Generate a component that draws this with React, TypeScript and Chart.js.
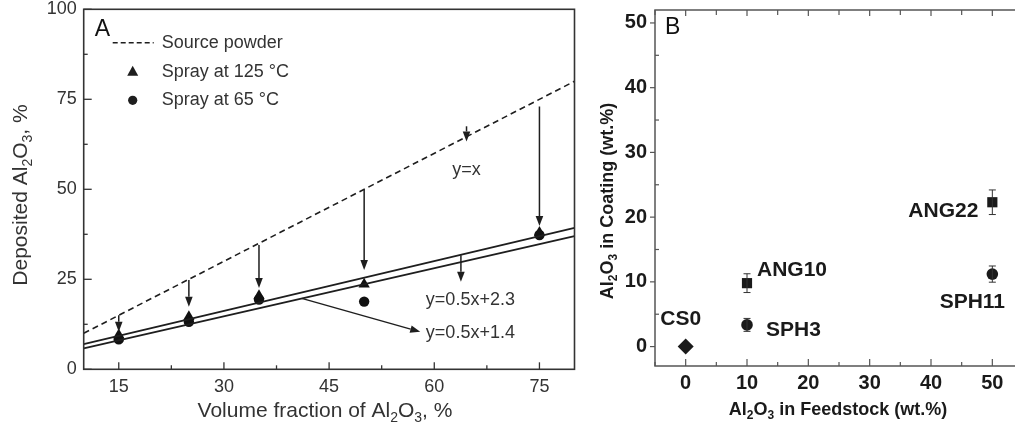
import React, { useEffect, useRef } from "react";
import { Chart, registerables } from "chart.js";

Chart.register(...registerables);

// ---------- Panel A data ----------
const volumeFraction = [15, 25, 35, 50, 75];
const spray125 = [9.5, 14.6, 20.4, 23.6, 38.0];
const spray65 = [8.3, 13.2, 19.4, 18.8, 37.3];
const sourceX = [10, 80];
const sourceY = [10, 80];
const fitX = [10, 80];
const fitUpperY = [7.0, 39.3];
const fitLowerY = [5.8, 37.0];
const xTicksA = [15, 30, 45, 60, 75];
const xMinorA = [22.5, 37.5, 52.5, 67.5];
const yTicksA = [0, 25, 50, 75, 100];
const yMinorA = [12.5, 37.5, 62.5, 87.5];
// annotation arrows (data units)
const arrowStartX = [15, 25, 35, 50, 75, 63.8, 41.1, 64.6];
const arrowStartY = [15, 24.8, 34.5, 49.8, 73, 31.7, 19.7, 67.5];
const arrowEndX = [15, 25, 35, 50, 75, 63.8, 58.0, 64.6];
const arrowEndY = [10.4, 17.4, 22.6, 27.6, 39.8, 24.3, 10.4, 63.3];
const eqLabels = ["y=x", "y=0.5x+2.3", "y=0.5x+1.4"];
const eqLabelX = [64.6, 58.8, 58.8];
const eqLabelY = [55.4, 19.2, 10.2];

// ---------- Panel B data ----------
const csFeed = [0];
const csCoat = [0];
const angFeed = [10, 50];
const angCoat = [9.8, 22.3];
const angErr = [1.45, 1.9];
const sphFeed = [10, 50];
const sphCoat = [3.35, 11.2];
const sphErr = [1.0, 1.25];
const csNames = ["CS0"];
const angNames = ["ANG10", "ANG22"];
const sphNames = ["SPH3", "SPH11"];
const xTicksB = [0, 10, 20, 30, 40, 50];
const xMinorB = [-5, 5, 15, 25, 35, 45, 55];
const yTicksB = [0, 10, 20, 30, 40, 50];
const yMinorB = [5, 15, 25, 35, 45];

// label placement (pixel offsets from the point) – style only
const labelStyle: Record<string, { dx: number; dy: number; align: CanvasTextAlign }> = {
  CS0: { dx: -5, dy: -27, align: "center" },
  ANG10: { dx: 10, dy: -13, align: "left" },
  SPH3: { dx: 19, dy: 5, align: "left" },
  ANG22: { dx: -14, dy: 9, align: "right" },
  SPH11: { dx: -20, dy: 28, align: "center" },
};

const FAM = "'Liberation Sans', Arial, Helvetica, sans-serif";

type Part = { t: string; sub?: boolean };

function drawRich(
  ctx: CanvasRenderingContext2D,
  parts: Part[],
  x: number,
  y: number,
  size: number,
  weight: string,
  color: string,
  rotate = false
) {
  ctx.save();
  ctx.translate(x, y);
  if (rotate) ctx.rotate(-Math.PI / 2);
  const fontFor = (p: Part) => `${weight} ${p.sub ? Math.round(size * 0.68) : size}px ${FAM}`;
  let total = 0;
  parts.forEach((p) => {
    ctx.font = fontFor(p);
    total += ctx.measureText(p.t).width;
  });
  let cx = -total / 2;
  ctx.fillStyle = color;
  ctx.textBaseline = "middle";
  ctx.textAlign = "left";
  parts.forEach((p) => {
    ctx.font = fontFor(p);
    ctx.fillText(p.t, cx, p.sub ? size * 0.32 : 0);
    cx += ctx.measureText(p.t).width;
  });
  ctx.restore();
}

function line(ctx: CanvasRenderingContext2D, x1: number, y1: number, x2: number, y2: number) {
  ctx.beginPath();
  ctx.moveTo(x1, y1);
  ctx.lineTo(x2, y2);
  ctx.stroke();
}

function arrow(ctx: CanvasRenderingContext2D, x1: number, y1: number, x2: number, y2: number) {
  const ang = Math.atan2(y2 - y1, x2 - x1);
  const hl = 10;
  const hw = 3.8;
  const bx = x2 - hl * Math.cos(ang);
  const by = y2 - hl * Math.sin(ang);
  line(ctx, x1, y1, bx, by);
  ctx.beginPath();
  ctx.moveTo(x2, y2);
  ctx.lineTo(bx + hw * Math.sin(ang), by - hw * Math.cos(ang));
  ctx.lineTo(bx - hw * Math.sin(ang), by + hw * Math.cos(ang));
  ctx.closePath();
  ctx.fill();
}

const toPts = (xs: number[], ys: number[]) => xs.map((x, i) => ({ x, y: ys[i] }));

function PanelA() {
  const ref = useRef<HTMLCanvasElement>(null);
  useEffect(() => {
    const ink = "#1e1e1e";
    const textCol = "#333";
    const decor = {
      id: "decorA",
      afterDraw(chart: any) {
        const { ctx, chartArea, scales } = chart;
        const { left, right, top, bottom } = chartArea;
        const x = scales.x;
        const y = scales.y;
        ctx.save();
        ctx.strokeStyle = "#333";
        ctx.lineWidth = 1.6;
        ctx.strokeRect(left, top, right - left, bottom - top);
        ctx.lineWidth = 1.3;
        xTicksA.forEach((v) => {
          const p = x.getPixelForValue(v);
          line(ctx, p, bottom, p, bottom - 7);
        });
        xMinorA.forEach((v) => {
          const p = x.getPixelForValue(v);
          line(ctx, p, bottom, p, bottom - 4);
        });
        yTicksA.forEach((v) => {
          const p = y.getPixelForValue(v);
          line(ctx, left, p, left + 8, p);
        });
        yMinorA.forEach((v) => {
          const p = y.getPixelForValue(v);
          line(ctx, left, p, left + 4, p);
        });
        // arrows
        ctx.strokeStyle = ink;
        ctx.fillStyle = ink;
        ctx.lineWidth = 1.5;
        arrowStartX.forEach((sx, i) => {
          arrow(
            ctx,
            x.getPixelForValue(sx),
            y.getPixelForValue(arrowStartY[i]),
            x.getPixelForValue(arrowEndX[i]),
            y.getPixelForValue(arrowEndY[i])
          );
        });
        // equation labels
        ctx.fillStyle = textCol;
        ctx.font = `18px ${FAM}`;
        ctx.textBaseline = "middle";
        eqLabels.forEach((t, i) => {
          ctx.textAlign = i === 0 ? "center" : "left";
          ctx.fillText(t, x.getPixelForValue(eqLabelX[i]), y.getPixelForValue(eqLabelY[i]));
        });
        // panel letter
        ctx.font = `23px ${FAM}`;
        ctx.textAlign = "left";
        ctx.fillStyle = "#111";
        ctx.fillText("A", left + 11, top + 20);
        // legend
        const lx = left + 29;
        ctx.strokeStyle = ink;
        ctx.lineWidth = 1.5;
        ctx.setLineDash([5, 3]);
        line(ctx, lx, top + 33.5, lx + 41, top + 33.5);
        ctx.setLineDash([]);
        ctx.fillStyle = ink;
        const mx = lx + 20;
        const ty = top + 62.5;
        ctx.beginPath();
        ctx.moveTo(mx, ty - 6);
        ctx.lineTo(mx + 5.5, ty + 4);
        ctx.lineTo(mx - 5.5, ty + 4);
        ctx.closePath();
        ctx.fill();
        ctx.beginPath();
        ctx.arc(mx, top + 91, 4.6, 0, Math.PI * 2);
        ctx.fill();
        ctx.fillStyle = textCol;
        ctx.font = `18px ${FAM}`;
        ctx.fillText("Source powder", lx + 49, top + 33.5);
        ctx.fillText("Spray at 125 \u00b0C", lx + 49, top + 62.5);
        ctx.fillText("Spray at 65 \u00b0C", lx + 49, top + 91);
        // axis titles
        drawRich(
          ctx,
          [{ t: "Deposited Al" }, { t: "2", sub: true }, { t: "O" }, { t: "3", sub: true }, { t: ", %" }],
          21,
          195,
          21,
          "normal",
          textCol,
          true
        );
        drawRich(
          ctx,
          [{ t: "Volume fraction of Al" }, { t: "2", sub: true }, { t: "O" }, { t: "3", sub: true }, { t: ", %" }],
          325,
          411,
          21,
          "normal",
          textCol
        );
        ctx.restore();
      },
    };
    const chart = new Chart(ref.current!, {
      type: "scatter",
      data: {
        datasets: [
          {
            label: "Source powder",
            data: toPts(sourceX, sourceY),
            showLine: true,
            borderColor: ink,
            borderWidth: 1.6,
            borderDash: [6, 4],
            pointRadius: 0,
          },
          {
            label: "fit upper",
            data: toPts(fitX, fitUpperY),
            showLine: true,
            borderColor: ink,
            borderWidth: 1.8,
            pointRadius: 0,
          },
          {
            label: "fit lower",
            data: toPts(fitX, fitLowerY),
            showLine: true,
            borderColor: ink,
            borderWidth: 1.8,
            pointRadius: 0,
          },
          {
            label: "Spray at 65 °C",
            data: toPts(volumeFraction, spray65),
            pointStyle: "circle",
            pointRadius: 5.2,
            backgroundColor: "#111",
            borderColor: "#111",
            borderWidth: 0,
          },
          {
            label: "Spray at 125 °C",
            data: toPts(volumeFraction, spray125),
            pointStyle: "triangle",
            pointRadius: 6.5,
            backgroundColor: "#111",
            borderColor: "#111",
            borderWidth: 0,
          },
        ],
      },
      options: {
        animation: false,
        responsive: false,
        devicePixelRatio: 1,
        layout: { padding: { left: 0, top: 9.3, right: 25.5, bottom: 0 } },
        plugins: { legend: { display: false }, tooltip: { enabled: false } },
        scales: {
          x: {
            type: "linear",
            min: 10,
            max: 80,
            grid: { display: false, drawTicks: false },
            border: { display: false },
            ticks: { font: { family: FAM, size: 18 }, color: "#333", padding: 7 },
            afterBuildTicks: (s: any) => {
              s.ticks = xTicksA.map((v) => ({ value: v }));
            },
            afterFit: (s: any) => {
              s.height = 65.7;
              s.paddingLeft = 0;
              s.paddingRight = 0;
            },
          },
          y: {
            type: "linear",
            min: 0,
            max: 100,
            grid: { display: false, drawTicks: false },
            border: { display: false },
            ticks: { font: { family: FAM, size: 18 }, color: "#333", padding: 7 },
            afterBuildTicks: (s: any) => {
              s.ticks = yTicksA.map((v) => ({ value: v }));
            },
            afterFit: (s: any) => {
              s.width = 83.7;
              s.paddingTop = 0;
              s.paddingBottom = 0;
            },
          },
        },
      } as any,
      plugins: [decor],
    });
    return () => chart.destroy();
  }, []);
  return (
    <canvas
      ref={ref}
      width={600}
      height={435}
      style={{ position: "absolute", left: 0, top: 0, width: 600, height: 435 }}
    />
  );
}

function PanelB() {
  const ref = useRef<HTMLCanvasElement>(null);
  useEffect(() => {
    const ink = "#1a1a1a";
    const frame = "#555";
    const decor = {
      id: "decorB",
      afterDraw(chart: any) {
        const { ctx, chartArea, scales } = chart;
        const { left, right, top, bottom } = chartArea;
        const x = scales.x;
        const y = scales.y;
        ctx.save();
        ctx.strokeStyle = frame;
        ctx.lineWidth = 1.5;
        ctx.strokeRect(left, top, right - left, bottom - top);
        ctx.lineWidth = 1.2;
        xTicksB.forEach((v) => {
          const p = x.getPixelForValue(v);
          line(ctx, p, bottom, p, bottom - 7);
          line(ctx, p, top, p, top + 6);
        });
        xMinorB.forEach((v) => {
          const p = x.getPixelForValue(v);
          line(ctx, p, bottom, p, bottom - 4);
          line(ctx, p, top, p, top + 5);
        });
        yTicksB.forEach((v) => {
          const p = y.getPixelForValue(v);
          line(ctx, left - 5, p, left, p);
        });
        yMinorB.forEach((v) => {
          const p = y.getPixelForValue(v);
          line(ctx, left, p, left + 4, p);
        });
        // error bars
        ctx.strokeStyle = "#333";
        ctx.lineWidth = 1;
        const errs = (xs: number[], ys: number[], es: number[]) => {
          xs.forEach((xv, i) => {
            const px = x.getPixelForValue(xv);
            const hi = y.getPixelForValue(ys[i] + es[i]);
            const lo = y.getPixelForValue(ys[i] - es[i]);
            line(ctx, px, hi, px, lo);
            line(ctx, px - 3.5, hi, px + 3.5, hi);
            line(ctx, px - 3.5, lo, px + 3.5, lo);
          });
        };
        errs(angFeed, angCoat, angErr);
        errs(sphFeed, sphCoat, sphErr);
        // point labels
        ctx.fillStyle = ink;
        ctx.font = `bold 21px ${FAM}`;
        ctx.textBaseline = "middle";
        const labs = (xs: number[], ys: number[], names: string[]) => {
          xs.forEach((xv, i) => {
            const st = labelStyle[names[i]];
            ctx.textAlign = st.align;
            ctx.fillText(names[i], x.getPixelForValue(xv) + st.dx, y.getPixelForValue(ys[i]) + st.dy);
          });
        };
        labs(csFeed, csCoat, csNames);
        labs(angFeed, angCoat, angNames);
        labs(sphFeed, sphCoat, sphNames);
        // panel letter
        ctx.font = `23px ${FAM}`;
        ctx.textAlign = "left";
        ctx.fillStyle = "#111";
        ctx.fillText("B", left + 10, top + 18);
        // axis titles
        drawRich(
          ctx,
          [{ t: "Al" }, { t: "2", sub: true }, { t: "O" }, { t: "3", sub: true }, { t: " in Coating (wt.%)" }],
          48,
          201,
          18,
          "bold",
          ink,
          true
        );
        drawRich(
          ctx,
          [{ t: "Al" }, { t: "2", sub: true }, { t: "O" }, { t: "3", sub: true }, { t: " in Feedstock (wt.%)" }],
          278,
          410,
          18,
          "bold",
          ink
        );
        ctx.restore();
      },
    };
    const chart = new Chart(ref.current!, {
      type: "scatter",
      data: {
        datasets: [
          {
            label: "CS",
            data: toPts(csFeed, csCoat),
            pointStyle: "rectRot",
            pointRadius: 8,
            backgroundColor: ink,
            borderColor: ink,
            borderWidth: 0,
          },
          {
            label: "ANG",
            data: toPts(angFeed, angCoat),
            pointStyle: "rect",
            pointRadius: 7.2,
            backgroundColor: ink,
            borderColor: ink,
            borderWidth: 0,
          },
          {
            label: "SPH",
            data: toPts(sphFeed, sphCoat),
            pointStyle: "circle",
            pointRadius: 5.8,
            backgroundColor: ink,
            borderColor: ink,
            borderWidth: 0,
          },
        ],
      },
      options: {
        animation: false,
        responsive: false,
        devicePixelRatio: 1,
        layout: { padding: { left: 0, top: 10, right: 57, bottom: 0 } },
        plugins: { legend: { display: false }, tooltip: { enabled: false } },
        scales: {
          x: {
            type: "linear",
            min: -5,
            max: 55,
            grid: { display: false, drawTicks: false },
            border: { display: false },
            ticks: { font: { family: FAM, size: 20, weight: "bold" }, color: ink, padding: 5 },
            afterBuildTicks: (s: any) => {
              s.ticks = xTicksB.map((v) => ({ value: v }));
            },
            afterFit: (s: any) => {
              s.height = 69;
              s.paddingLeft = 0;
              s.paddingRight = 0;
            },
          },
          y: {
            type: "linear",
            min: -3,
            max: 52,
            grid: { display: false, drawTicks: false },
            border: { display: false },
            ticks: { font: { family: FAM, size: 20, weight: "bold" }, color: ink, padding: 8 },
            afterBuildTicks: (s: any) => {
              s.ticks = yTicksB.map((v) => ({ value: v }));
            },
            afterFit: (s: any) => {
              s.width = 95;
              s.paddingTop = 0;
              s.paddingBottom = 0;
            },
          },
        },
      } as any,
      plugins: [decor],
    });
    return () => chart.destroy();
  }, []);
  return (
    <canvas
      ref={ref}
      width={520}
      height={435}
      style={{ position: "absolute", left: 560, top: 0, width: 520, height: 435 }}
    />
  );
}

export default function App() {
  return (
    <div
      style={{
        position: "fixed",
        left: 0,
        top: 0,
        width: 1015,
        height: 435,
        overflow: "hidden",
        background: "#fff",
      }}
    >
      <PanelA />
      <PanelB />
    </div>
  );
}
